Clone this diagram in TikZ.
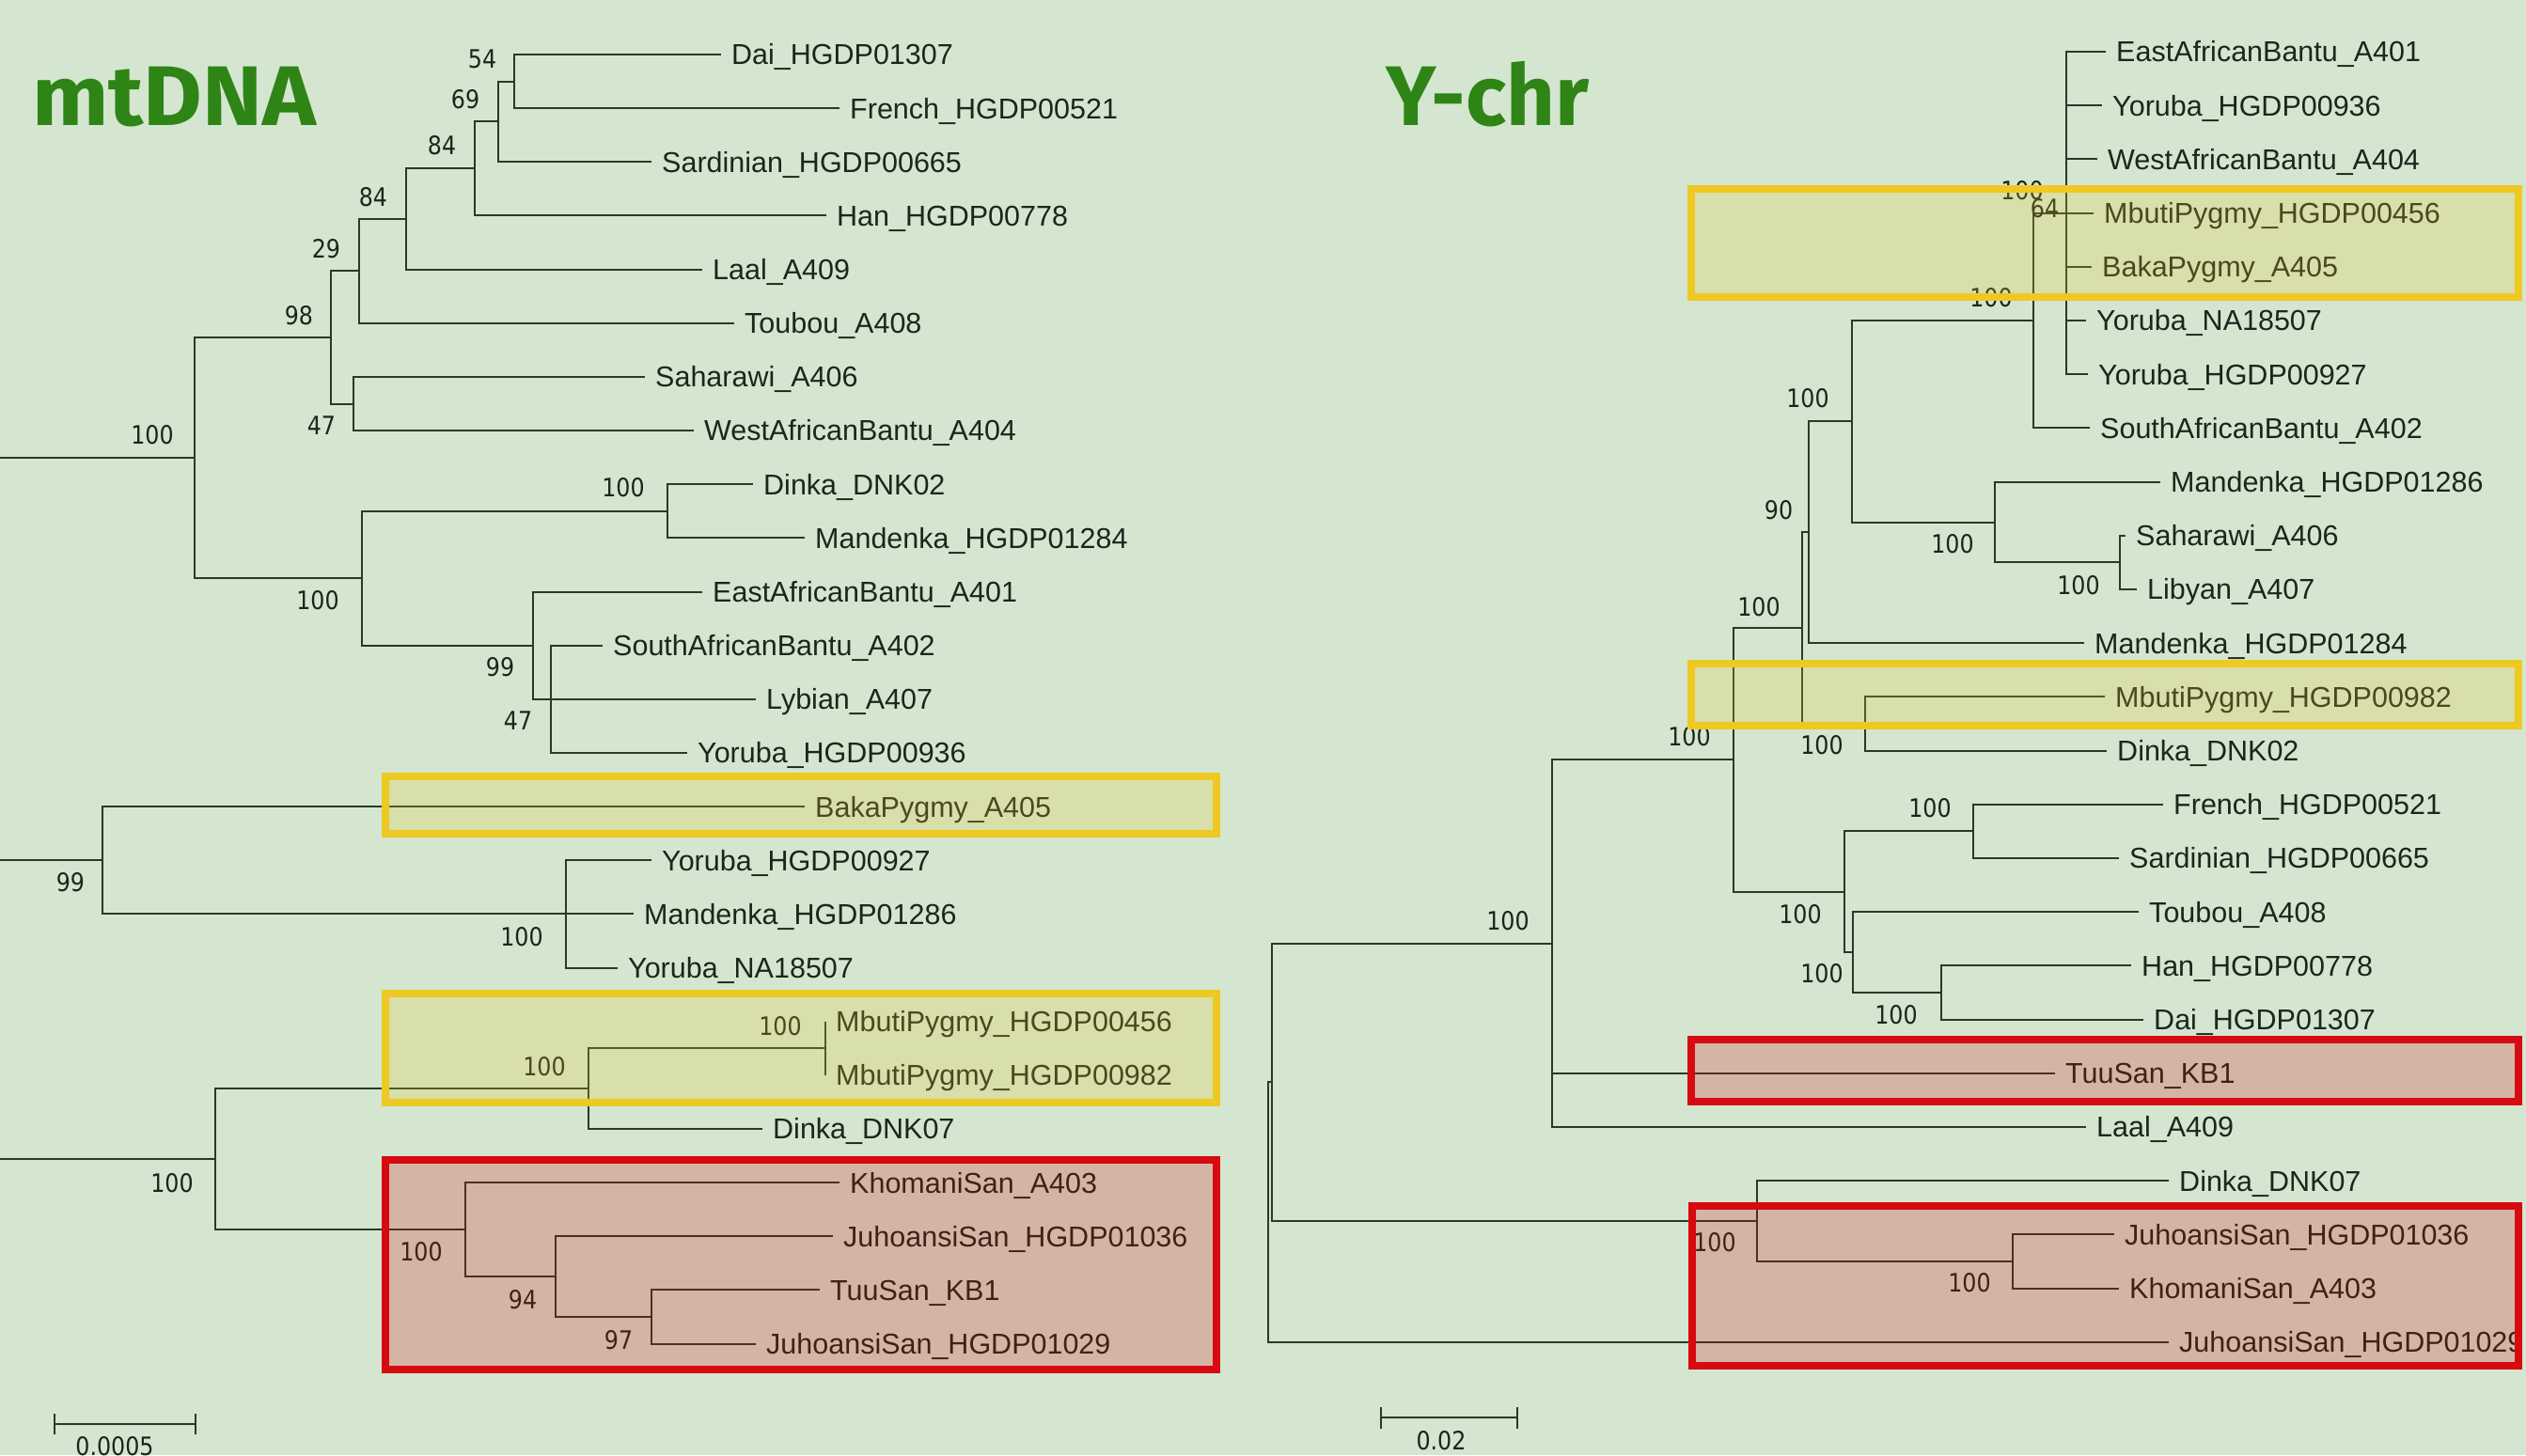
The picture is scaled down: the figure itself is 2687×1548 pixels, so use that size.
\documentclass[tikz,border=0pt]{standalone}
\usepackage{fontspec}
\setmainfont{Liberation Sans}
\newfontfamily\bootfont{DejaVu Sans}[FakeStretch=0.88]
\newfontfamily\titlefont{Fira Sans}
\newfontfamily\widetitlefont{Fira Sans}[FakeStretch=1.07]
\definecolor{bg}{RGB}{212,230,208}
\definecolor{ink}{RGB}{40,58,40}
\definecolor{txt}{RGB}{28,38,28}
\definecolor{ttlgreen}{RGB}{46,132,21}
\definecolor{ybox}{RGB}{238,200,35}
\definecolor{rbox}{RGB}{214,10,16}

\begin{document}
\begin{tikzpicture}[x=1pt, y=-1pt]
\tikzstyle{br}=[draw=ink, line width=2pt]
\tikzstyle{leaf}=[anchor=west, inner xsep=11pt, inner ysep=0pt, text height=26pt, text depth=4.2pt, text=txt, font=\fontsize{30.5}{34}\selectfont]
\tikzstyle{bs}=[inner sep=0pt, text=txt, font=\bootfont\fontsize{27}{30}\selectfont]
\tikzstyle{ttl}=[anchor=base west, inner sep=0pt, text=ttlgreen, font=\titlefont\bfseries\fontsize{90}{100}\selectfont]
\tikzstyle{ybx}=[draw=ybox, fill=ybox, fill opacity=0.22, line width=8.5pt]
\tikzstyle{rbx}=[draw=rbox, fill=rbox, fill opacity=0.22, line width=8.5pt]
\useasboundingbox (0,0) rectangle (2687,1548);
\fill[bg] (0,0) rectangle (2687,1548);

% titles
\node[ttl, font=\widetitlefont\bfseries\fontsize{90}{100}\selectfont] (tmt) at (34,133) {mtDNA};
\node[ttl] (tyc) at (1474,133) {Y-chr};

% ---- mtDNA tree ----
\foreach \n/\x/\r/\t in {dai/767/0/Dai\_HGDP01307, fre/893/1/French\_HGDP00521,
  sar/693/2/Sardinian\_HGDP00665, han/879/3/Han\_HGDP00778, laa/747/4/Laal\_A409,
  tou/781/5/Toubou\_A408, sah/686/6/Saharawi\_A406, wab/738/7/WestAfricanBantu\_A404,
  dka/801/8/Dinka\_DNK02, mda/856/9/Mandenka\_HGDP01284, eab/747/10/EastAfricanBantu\_A401,
  sab/641/11/SouthAfricanBantu\_A402, lyb/804/12/Lybian\_A407, yoa/731/13/Yoruba\_HGDP00936,
  bak/856/14/BakaPygmy\_A405, yob/693/15/Yoruba\_HGDP00927, mdb/674/16/Mandenka\_HGDP01286,
  yoc/657/17/Yoruba\_NA18507, mba/878/18/MbutiPygmy\_HGDP00456, mbb/878/19/MbutiPygmy\_HGDP00982,
  dkb/811/20/Dinka\_DNK07, kho/893/21/KhomaniSan\_A403, jua/886/22/JuhoansiSan\_HGDP01036,
  tuu/872/23/TuuSan\_KB1, jub/804/24/JuhoansiSan\_HGDP01029}
  \node[leaf] (mt\n) at (\x,{58+57.15*\r}) {\t};
\coordinate (mt54) at (547,86.6);
\coordinate (mt69) at (530,129.45);
\coordinate (mt84a) at (505,179.45);
\coordinate (mt84b) at (432,233);
\coordinate (mt29) at (382,288.4);
\coordinate (mt47a) at (376,429.5);
\coordinate (mt98) at (352,358.95);
\coordinate (mtDM) at (710,543.8);
\coordinate (mt47b) at (586,743.8);
\coordinate (mt99a) at (567,686.65);
\coordinate (mtB) at (385,615.2);
\coordinate (mtA) at (207,487.1);
\coordinate (mtY) at (602,972.4);
\coordinate (mt99b) at (109,915.25);
\coordinate (mtMb) at (878,1115.3);
\coordinate (mtMD) at (626,1158.15);
\coordinate (mt97) at (693,1401);
\coordinate (mt94) at (591,1358.15);
\coordinate (mtS) at (495,1308.15);
\coordinate (mtC) at (229,1233.15);
\coordinate (mtr1) at (0,487.1);
\coordinate (mtr2) at (0,915.25);
\coordinate (mtr3) at (0,1233.15);
\foreach \p/\c in {54/dai, 54/fre, 69/54, 69/sar, 84a/69, 84a/han, 84b/84a, 84b/laa,
  29/84b, 29/tou, 47a/sah, 47a/wab, 98/29, 98/47a, DM/dka, DM/mda, 47b/sab, 47b/lyb,
  47b/yoa, 99a/eab, 99a/47b, B/DM, B/99a, A/98, A/B, r1/A, Y/yob, Y/mdb, Y/yoc,
  99b/bak, 99b/Y, r2/99b, Mb/mba, Mb/mbb, MD/Mb, MD/dkb, 97/tuu, 97/jub, 94/jua,
  94/97, S/kho, S/94, C/MD, C/S, r3/C}
  \draw[br] (mt\p) |- (mt\c);
\foreach \x/\y/\v [count=\i] in {513/63/54, 495/106/69, 470/155/84, 397/210/84,
  347/265/29, 318/336/98, 342/453/47, 162/463/100, 663/519/100, 338/639/100,
  532/710/99, 551/767/47, 75/939/99, 555/997/100, 830/1092/100, 579/1135/100,
  183/1259/100, 448/1332/100, 556/1383/94, 658/1426/97}
  \node[bs] (mtbs\i) at (\x,\y) {\v};
% scale bar
\draw[br] (58,1504) -- (58,1526) (58,1515) -- (208,1515) (208,1504) -- (208,1526);
\node[bs] (mtscl) at (122,1539) {0.0005};

% ---- Y-chr tree ----
\foreach \n/\x/\r/\t in {eab/2240/0/EastAfricanBantu\_A401, yoa/2236/1/Yoruba\_HGDP00936,
  wab/2231/2/WestAfricanBantu\_A404, mba/2227/3/MbutiPygmy\_HGDP00456, bak/2225/4/BakaPygmy\_A405,
  yoc/2219/5/Yoruba\_NA18507, yob/2221/6/Yoruba\_HGDP00927, sab/2223/7/SouthAfricanBantu\_A402,
  mdb/2298/8/Mandenka\_HGDP01286, sah/2261/9/Saharawi\_A406, lib/2273/10/Libyan\_A407,
  mda/2217/11/Mandenka\_HGDP01284, mbb/2239/12/MbutiPygmy\_HGDP00982, dka/2241/13/Dinka\_DNK02,
  fre/2301/14/French\_HGDP00521, sar/2254/15/Sardinian\_HGDP00665, tou/2275/16/Toubou\_A408,
  han/2267/17/Han\_HGDP00778, dai/2280/18/Dai\_HGDP01307, tuu/2186/19/TuuSan\_KB1,
  laa/2219/20/Laal\_A409, dkb/2307/21/Dinka\_DNK07, jua/2249/22/JuhoansiSan\_HGDP01036,
  kho/2254/23/KhomaniSan\_A403, jub/2307/24/JuhoansiSan\_HGDP01029}
  \node[leaf] (yc\n) at (\x,{55+57.2*\r}) {\t};
\coordinate (ycP) at (2198,226.6);
\coordinate (ycQ) at (2163,341);
\coordinate (ycSL) at (2255,598.4);
\coordinate (ycMS) at (2122,555.5);
\coordinate (ycR) at (1970,448.25);
\coordinate (yc90) at (1924,566.2);
\coordinate (ycMD) at (1984,770);
\coordinate (ycT) at (1917,668.1);
\coordinate (ycFS) at (2099,884.4);
\coordinate (ycHD) at (2065,1056);
\coordinate (yc99) at (1971,1013.1);
\coordinate (ycV) at (1962,948.75);
\coordinate (ycU) at (1844,808.4);
\coordinate (ycW) at (1651,1003.7);
\coordinate (ycJK) at (2141,1342);
\coordinate (ycD7) at (1869,1299.1);
\coordinate (ycX) at (1353,1151.4);
\coordinate (ycO) at (1349,1289.6);
\foreach \p/\c in {P/eab, P/yoa, P/wab, P/mba, P/bak, P/yoc, P/yob, Q/P, Q/sab,
  SL/sah, SL/lib, MS/mdb, MS/SL, R/Q, R/MS, 90/R, 90/mda, MD/mbb, MD/dka, T/90, T/MD,
  FS/fre, FS/sar, HD/han, HD/dai, 99/tou, 99/HD, V/FS, V/99, U/T, U/V, W/U, W/tuu,
  W/laa, JK/jua, JK/kho, D7/dkb, D7/JK, X/W, X/D7, O/X, O/jub}
  \draw[br] (yc\p) |- (yc\c);
\foreach \x/\y/\v [count=\i] in {2151/203/100, 2175/222/64, 2118/317/100, 1923/424/100,
  1892/543/90, 2077/579/100, 2211/623/100, 1871/646/100, 1797/784/100, 1938/793/100,
  2053/860/100, 1915/973/100, 1604/980/100, 1938/1036/100, 2017/1080/100,
  1824/1322/100, 2095/1365/100}
  \node[bs] (ycbs\i) at (\x,\y) {\v};
% scale bar
\draw[br] (1469,1497) -- (1469,1520) (1469,1508) -- (1614,1508) (1614,1497) -- (1614,1520);
\node[bs] (ycscl) at (1533,1533) {0.02};

% ---- highlight boxes ----
\draw[ybx] (410,826) rectangle (1294,887);
\draw[ybx] (410,1057) rectangle (1294,1173);
\draw[rbx] (410,1234) rectangle (1294,1457);
\draw[ybx] (1799,201) rectangle (2679,316);
\draw[ybx] (1799,706) rectangle (2679,772);
\draw[rbx] (1799,1106) rectangle (2679,1172);
\draw[rbx] (1800,1283) rectangle (2679,1453);
\end{tikzpicture}
\end{document}
